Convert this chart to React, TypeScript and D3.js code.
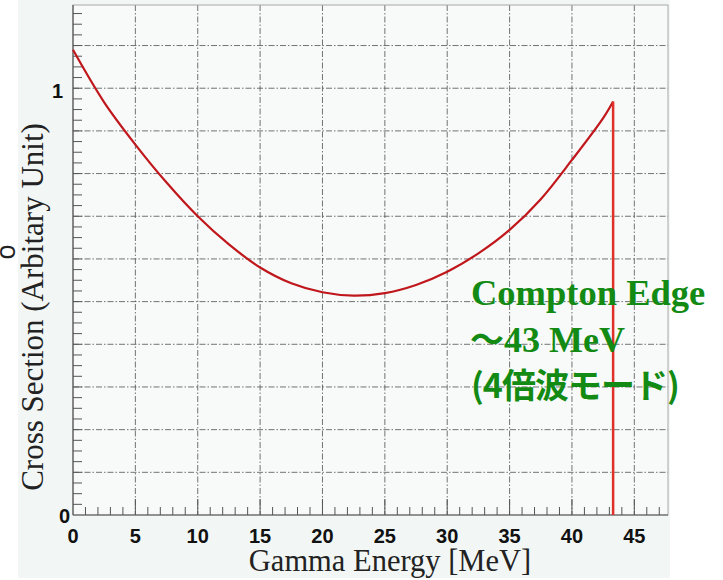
import React from 'react';
import * as d3 from 'd3';

// Gamma energy [MeV] and cross section (arbitrary unit)
const energy = [0, 2.5, 5, 7.5, 10, 12.5, 15, 17.5, 20, 22.5, 25, 27.5, 30, 32.5, 35, 37.5, 40, 42.5, 43.3];
const crossSection = [1.09, 0.967, 0.868, 0.779, 0.7, 0.634, 0.58, 0.543, 0.522, 0.514, 0.52, 0.539, 0.57, 0.613, 0.668, 0.74, 0.832, 0.93, 0.969];
const comptonEdge = 43.3;

const xTickLabels = ['0', '5', '10', '15', '20', '25', '30', '35', '40', '45'];
const yTickLabels = ['0', '1'];
const annotation = ['Compton Edge', '～', '43 MeV', '(4倍波モード)'];

const W = 723;
const H = 580;
const frame = { left: 73, right: 668, top: 5, bottom: 515 };

const App = () => {
  const x = d3.scaleLinear().domain([0, 47.7]).range([frame.left, frame.right]);
  const y = d3.scaleLinear().domain([0, 1.195]).range([frame.bottom, frame.top]);

  const pts: [number, number][] = energy.map((e, i) => [e, crossSection[i]]);
  const line = d3.line<[number, number]>()
    .x(d => x(d[0]))
    .y(d => y(d[1]))
    .curve(d3.curveCatmullRom.alpha(0.5));

  const xMinor = d3.range(1, 48);
  const yMinor = d3.range(1, 48).map(i => i * 0.025);
  const xGrid = d3.range(5, 46, 5);
  const yGrid = d3.range(1, 12).map(i => i / 10);

  const grid = '#5c5c5c';
  const dash = '6,2,1.5,2';
  const green = '#138a13';
  const serif = "'Liberation Serif', 'Times New Roman', serif";
  const cjk = "'Noto Sans CJK JP', sans-serif";

  return (
    <svg width={W} height={H} style={{ position: 'absolute', left: 0, top: 0 }}>
      <rect x={0} y={0} width={W} height={H} fill="#ffffff" />
      <rect x={18} y={0} width={652} height={578} fill="#f2f7f5" />
      <rect x={frame.left} y={frame.top} width={frame.right - frame.left} height={frame.bottom - frame.top} fill="#f7faf9" />

      {/* grid */}
      {xGrid.map(v => (
        <line key={'gx' + v} x1={x(v)} x2={x(v)} y1={frame.top} y2={frame.bottom}
          stroke={grid} strokeWidth={1} strokeDasharray={dash} opacity={0.85} />
      ))}
      {yGrid.map(v => (
        <line key={'gy' + v} x1={frame.left} x2={frame.right} y1={y(v)} y2={y(v)}
          stroke={grid} strokeWidth={1} strokeDasharray={dash} opacity={0.85} />
      ))}

      {/* frame */}
      <rect x={frame.left} y={frame.top} width={frame.right - frame.left} height={frame.bottom - frame.top}
        fill="none" stroke="#a8a8a8" strokeWidth={1} />
      <line x1={frame.left} x2={frame.left} y1={frame.top} y2={frame.bottom} stroke="#555" strokeWidth={1.2} />
      <line x1={frame.left} x2={frame.right} y1={frame.bottom} y2={frame.bottom} stroke="#555" strokeWidth={1.2} />

      {/* ticks */}
      {xMinor.map(v => (
        <line key={'tx' + v} x1={x(v)} x2={x(v)} y1={frame.bottom} y2={frame.bottom - (v % 5 === 0 ? 16 : 8)}
          stroke="#555" strokeWidth={1} />
      ))}
      {yMinor.map((v, i) => (
        <line key={'ty' + i} x1={frame.left} x2={frame.left + 9} y1={y(v)} y2={y(v)}
          stroke="#555" strokeWidth={1} />
      ))}

      {/* curve */}
      <path d={line(pts) || ''} fill="none" stroke="#c0171c" strokeWidth={2.2} />
      <line x1={x(comptonEdge)} x2={x(comptonEdge)} y1={y(crossSection[crossSection.length - 1])} y2={y(0)}
        stroke="#e0302a" strokeWidth={2.5} />

      {/* tick labels */}
      <g fontFamily="'Liberation Sans', Arial, sans-serif" fontWeight="bold" fontSize={20} fill="#111">
        {xTickLabels.map(t => (
          <text key={'lx' + t} x={x(+t)} y={543} textAnchor="middle">{t}</text>
        ))}
        <text x={70} y={523} textAnchor="end">{yTickLabels[0]}</text>
        <text x={63} y={98} textAnchor="end">{yTickLabels[1]}</text>
      </g>

      {/* axis titles */}
      <text x={390} y={571} textAnchor="middle" fontFamily={serif} fontSize={30.5} fill="#222">Gamma Energy [MeV]</text>
      <text transform="translate(43,307) rotate(-90)" textAnchor="middle" fontFamily={serif} fontSize={31} fill="#222">
        Cross Section (Arbitary Unit)
      </text>
      <text transform="translate(15,252) rotate(-90)" textAnchor="middle"
        fontFamily="'Liberation Sans', Arial, sans-serif" fontSize={27} fill="#222">o</text>

      {/* annotation */}
      <g fill={green} fontWeight="bold">
        <text x={471} y={305} fontFamily={serif} fontSize={36.5}>{annotation[0]}</text>
        <text x={470} y={352} fontFamily={serif} fontSize={36}>
          <tspan fontFamily={cjk} fontSize={34}>{annotation[1]}</tspan>
          <tspan>{annotation[2]}</tspan>
        </text>
        <text x={471} y={398} fontFamily={cjk} fontSize={34} letterSpacing={-1}>{annotation[3]}</text>
      </g>
    </svg>
  );
};

export default App;
